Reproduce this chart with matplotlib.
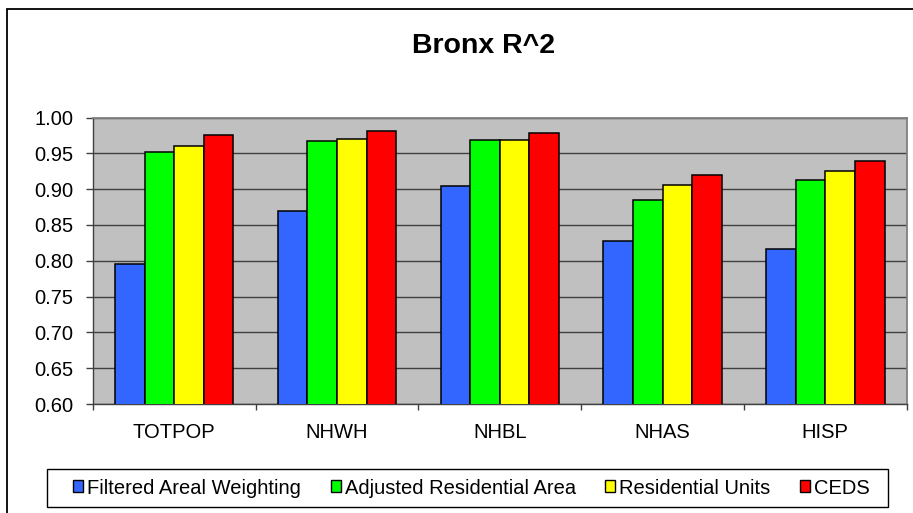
import numpy as np
import matplotlib
matplotlib.use("Agg")
import matplotlib.pyplot as plt
from matplotlib.patches import Rectangle, Patch

plt.rcParams['font.family'] = ['Liberation Sans', 'DejaVu Sans']

# data
categories = ['TOTPOP', 'NHWH', 'NHBL', 'NHAS', 'HISP']
series_names = ['Filtered Areal Weighting', 'Adjusted Residential Area',
                'Residential Units', 'CEDS']
filtered_areal = [0.795, 0.870, 0.904, 0.827, 0.817]
adjusted_resid = [0.952, 0.967, 0.969, 0.885, 0.913]
resid_units = [0.960, 0.970, 0.969, 0.906, 0.926]
ceds = [0.975, 0.981, 0.979, 0.920, 0.939]
series = [filtered_areal, adjusted_resid, resid_units, ceds]
colors = ['#3366FF', '#00FF00', '#FFFF00', '#FF0000']

W, H = 913, 513
fig = plt.figure(figsize=(W / 100, H / 100), dpi=100)

# outer chart frame (runs off the right/bottom edge like the original)
fig.patches.append(Rectangle((7 / W, -0.2), 1.2, 1.2 - 9 / H,
                             transform=fig.transFigure, fill=False,
                             edgecolor='black', linewidth=1.3))

ax = fig.add_axes([92.7 / W, 1 - 404 / H, (906.7 - 92.7) / W, (404 - 117.5) / H])
ax.set_facecolor('#C0C0C0')

x = np.arange(len(categories))
bw = 1 / 5.5
for i, (vals, c) in enumerate(zip(series, colors)):
    ax.bar(x + (i - 1.5) * bw, vals, width=bw, color=c, edgecolor='black',
           linewidth=1.1, zorder=3, label=series_names[i])

ax.set_xlim(-0.5, len(categories) - 0.5)
ax.set_ylim(0.60, 1.00)
ax.set_yticks(np.arange(0.60, 1.001, 0.05))
ax.set_yticklabels([f'{v:.2f}' for v in np.arange(0.60, 1.001, 0.05)])
ax.yaxis.grid(True, color='#404040', linewidth=1.0, zorder=1)
ax.set_axisbelow(True)

ax.set_xticks(x)
ax.set_xticklabels(categories)
ax.set_xticks(np.arange(-0.5, len(categories)), minor=True)
ax.tick_params(axis='x', which='major', length=0, pad=13.5, labelsize=14.5)
ax.tick_params(axis='x', which='minor', length=4, width=1, color='#404040')
ax.tick_params(axis='y', length=4.8, width=1, pad=9, labelsize=14.5, color='#404040')

for s in ['top', 'right']:
    ax.spines[s].set_color('#808080')
    ax.spines[s].set_linewidth(1.3)
for s in ['left', 'bottom']:
    ax.spines[s].set_color('#404040')
    ax.spines[s].set_linewidth(1.0)

fig.text(484 / W, 1 - 46 / H, 'Bronx R^2', ha='center', va='center',
         fontsize=20.5, fontweight='bold')

# legend box drawn separately so the entries can sit inset like Excel's
fig.patches.append(Rectangle((47 / W, 1 - 507 / H), 841 / W, 38 / H,
                             transform=fig.transFigure, facecolor='white',
                             edgecolor='black', linewidth=1.0))
handles = [Patch(facecolor=c, edgecolor='black', linewidth=1.0) for c in colors]
leg = fig.legend(handles, series_names, loc='center', ncol=4,
                 bbox_to_anchor=(73 / W, 1 - 507 / H, (870 - 73) / W, 38 / H),
                 mode='expand', fontsize=14.5, frameon=False,
                 handlelength=0.5, handleheight=0.55,
                 handletextpad=0.2, columnspacing=1.0, borderpad=0,
                 borderaxespad=0)

fig.savefig('out.png', dpi=100)
